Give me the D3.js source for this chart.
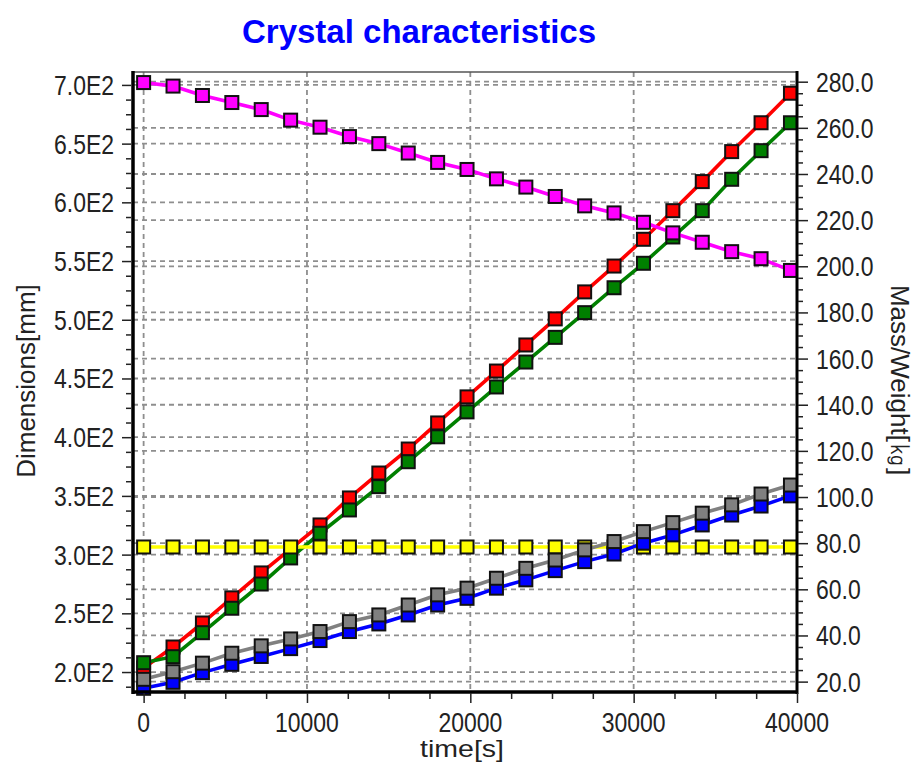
<!DOCTYPE html>
<html><head><meta charset="utf-8">
<script src="https://cdn.jsdelivr.net/npm/d3@7"></script>
<style>body{margin:0;background:#fff}</style>
</head><body>
<svg id="chart" width="919" height="767"></svg>
<script>
// ---------------- data ----------------
const timeValues = [0,1800,3600,5400,7200,9000,10800,12600,14400,16200,18000,19800,21600,23400,25200,27000,28800,30600,32400,34200,36000,37800,39600];
// left axis (Dimensions [mm])
const magentaValues = [702,699,691,685,679,670,664,656,650,642,634,628,620,613,605,597,591,583,574,566,558,552,542];
const yellowValues  = [306.5,306.5,306.5,306.5,306.5,306.5,306.5,306.5,306.5,306.5,306.5,306.5,306.5,306.5,306.5,306.5,306.5,306.5,306.5,306.5,306.5,306.5,306.5];
// right axis (Mass/Weight [kg])
const redValues   = [25.9,35.0,45.4,56.3,67.1,77.5,87.9,99.6,110.4,120.8,132.1,143.4,154.6,165.9,177.2,188.9,200.1,211.7,224.1,236.7,249.7,262.2,275.0];
const greenValues = [28.2,30.8,41.2,51.8,62.3,73.6,84.3,94.4,104.5,115.3,126.1,136.9,147.7,158.5,169.2,179.9,190.7,201.3,212.7,224.1,237.7,250.1,262.2];
const blueValues  = [17.1,19.7,23.9,27.5,30.9,34.3,37.8,41.7,45.0,48.9,53.2,56.1,60.5,64.1,68.1,72.0,75.3,80.0,83.6,87.9,92.2,96.1,100.5];
const grayValues  = [21.0,24.3,28.0,32.3,35.5,38.5,41.7,46.0,48.9,53.2,57.6,60.5,64.8,69.1,72.7,77.1,80.7,85.0,88.9,93.0,96.6,101.3,105.2];

const leftTickValues  = [200,250,300,350,400,450,500,550,600,650,700];
const leftTickLabels  = ["2.0E2","2.5E2","3.0E2","3.5E2","4.0E2","4.5E2","5.0E2","5.5E2","6.0E2","6.5E2","7.0E2"];
const rightTickValues = [20,40,60,80,100,120,140,160,180,200,220,240,260,280];
const rightTickLabels = ["20.0","40.0","60.0","80.0","100.0","120.0","140.0","160.0","180.0","200.0","220.0","240.0","260.0","280.0"];
const xTickValues = [0,10000,20000,30000,40000];
const xTickLabels = ["0","10000","20000","30000","40000"];

const titleText = "Crystal characteristics";
const xTitle = "time[s]";
const leftTitle = "Dimensions[mm]";
const rightTitle = "Mass/Weight[㎏]";

// ---------------- layout ----------------
const svg = d3.select("#chart");
const L = 133, R = 797, T = 72, B = 692;

const x = d3.scaleLinear().domain([-650, 40000]).range([L, R]);
const yL = d3.scaleLinear().domain([183, 711]).range([B, T]);
const yR = d3.scaleLinear().domain([15.5, 284.2]).range([B, T]);

const FONT = "'Liberation Sans', Arial, sans-serif";
const SQ = 0.82; // condensed look of tick labels

// grid
const grid = svg.append("g").attr("stroke", "#8e8e8e").attr("stroke-width", 1.8)
  .attr("stroke-dasharray", "5,4").attr("fill", "none");
leftTickValues.forEach(v => grid.append("line").attr("x1", L).attr("x2", R).attr("y1", yL(v)).attr("y2", yL(v)));
rightTickValues.forEach(v => grid.append("line").attr("x1", L).attr("x2", R).attr("y1", yR(v)).attr("y2", yR(v)));
xTickValues.forEach(v => grid.append("line").attr("x1", x(v)).attr("x2", x(v)).attr("y1", T).attr("y2", B));

// series
const series = [
  {vals: redValues,     scale: yR, color: "#ff0000"},
  {vals: greenValues,   scale: yR, color: "#008000"},
  {vals: yellowValues,  scale: yL, color: "#ffff00"},
  {vals: blueValues,    scale: yR, color: "#0000ff"},
  {vals: grayValues,    scale: yR, color: "#808080"},
  {vals: magentaValues, scale: yL, color: "#ff00ff"}
];
const MS = 13;
series.forEach(s => {
  const pts = timeValues.map((t, i) => [t, s.vals[i]]);
  const line = d3.line().x(d => x(d[0])).y(d => s.scale(d[1]));
  svg.append("path").datum(pts).attr("d", line).attr("fill", "none")
    .attr("stroke", s.color).attr("stroke-width", 3.6);
  svg.append("g").selectAll("rect").data(pts).join("rect")
    .attr("x", d => x(d[0]) - MS / 2).attr("y", d => s.scale(d[1]) - MS / 2)
    .attr("width", MS).attr("height", MS)
    .attr("fill", s.color).attr("stroke", "#111").attr("stroke-width", 2);
});

// frame
svg.append("line").attr("x1", L).attr("x2", R).attr("y1", T).attr("y2", T).attr("stroke", "#555").attr("stroke-width", 1.5);
svg.append("line").attr("x1", L).attr("x2", L).attr("y1", T - 1).attr("y2", B + 2).attr("stroke", "#000").attr("stroke-width", 3.5);
svg.append("line").attr("x1", R).attr("x2", R).attr("y1", T - 1).attr("y2", B + 2).attr("stroke", "#000").attr("stroke-width", 3);
svg.append("line").attr("x1", L).attr("x2", R + 1).attr("y1", B).attr("y2", B).attr("stroke", "#000").attr("stroke-width", 3.5);

// axes with d3 axis generators (ticks only; labels drawn separately for condensed look)
function styleAxis(g) {
  g.select(".domain").remove();
  g.selectAll("line").attr("stroke", "#222").attr("stroke-width", 1.5);
  g.selectAll("text").remove();
}
const leftMinor = d3.range(187.5, 711, 12.5).filter(v => v % 50 !== 0);
const rightMinor = d3.range(20, 284, 5).filter(v => v % 20 !== 0);
const xMinor = d3.range(0, 40001, 2500).filter(v => v % 10000 !== 0);

svg.append("g").attr("transform", `translate(${L - 2},0)`)
  .call(d3.axisLeft(yL).tickValues(leftTickValues).tickSize(9)).call(styleAxis);
svg.append("g").attr("transform", `translate(${L - 2},0)`)
  .call(d3.axisLeft(yL).tickValues(leftMinor).tickSize(5)).call(styleAxis);
svg.append("g").attr("transform", `translate(${R + 1},0)`)
  .call(d3.axisRight(yR).tickValues(rightTickValues).tickSize(10)).call(styleAxis);
svg.append("g").attr("transform", `translate(${R + 1},0)`)
  .call(d3.axisRight(yR).tickValues(rightMinor).tickSize(5)).call(styleAxis);
svg.append("g").attr("transform", `translate(0,${B + 1})`)
  .call(d3.axisBottom(x).tickValues(xTickValues).tickSize(10)).call(styleAxis);
svg.append("g").attr("transform", `translate(0,${B + 1})`)
  .call(d3.axisBottom(x).tickValues(xMinor).tickSize(6)).call(styleAxis);

// tick labels
function condText(px, py, txt, anchor, size) {
  svg.append("text").attr("transform", `translate(${px},${py}) scale(${SQ},1)`)
    .attr("text-anchor", anchor).attr("font-family", FONT).attr("font-size", size)
    .attr("fill", "#222").text(txt);
}
leftTickValues.forEach((v, i) => condText(114, yL(v) + 10, leftTickLabels[i], "end", 28));
rightTickValues.forEach((v, i) => condText(816, yR(v) + 10, rightTickLabels[i], "start", 28));
xTickValues.forEach((v, i) => condText(x(v), 732, xTickLabels[i], "middle", 28));

// titles
svg.append("text").attr("x", 419).attr("y", 43).attr("text-anchor", "middle")
  .attr("font-family", FONT).attr("font-weight", "bold").attr("font-size", 33)
  .attr("fill", "#0000ff").text(titleText);
svg.append("text").attr("x", 462).attr("y", 757).attr("text-anchor", "middle")
  .attr("font-family", FONT).attr("font-size", 24).attr("fill", "#222")
  .attr("textLength", 84).attr("lengthAdjust", "spacingAndGlyphs").text(xTitle);
svg.append("text").attr("transform", `translate(35,381) rotate(-90)`).attr("text-anchor", "middle")
  .attr("font-family", FONT).attr("font-size", 26).attr("fill", "#222").text(leftTitle);
svg.append("text").attr("transform", `translate(891,380) rotate(90)`).attr("text-anchor", "middle")
  .attr("font-family", FONT).attr("font-size", 26).attr("fill", "#222").text(rightTitle);
</script>
</body></html>
